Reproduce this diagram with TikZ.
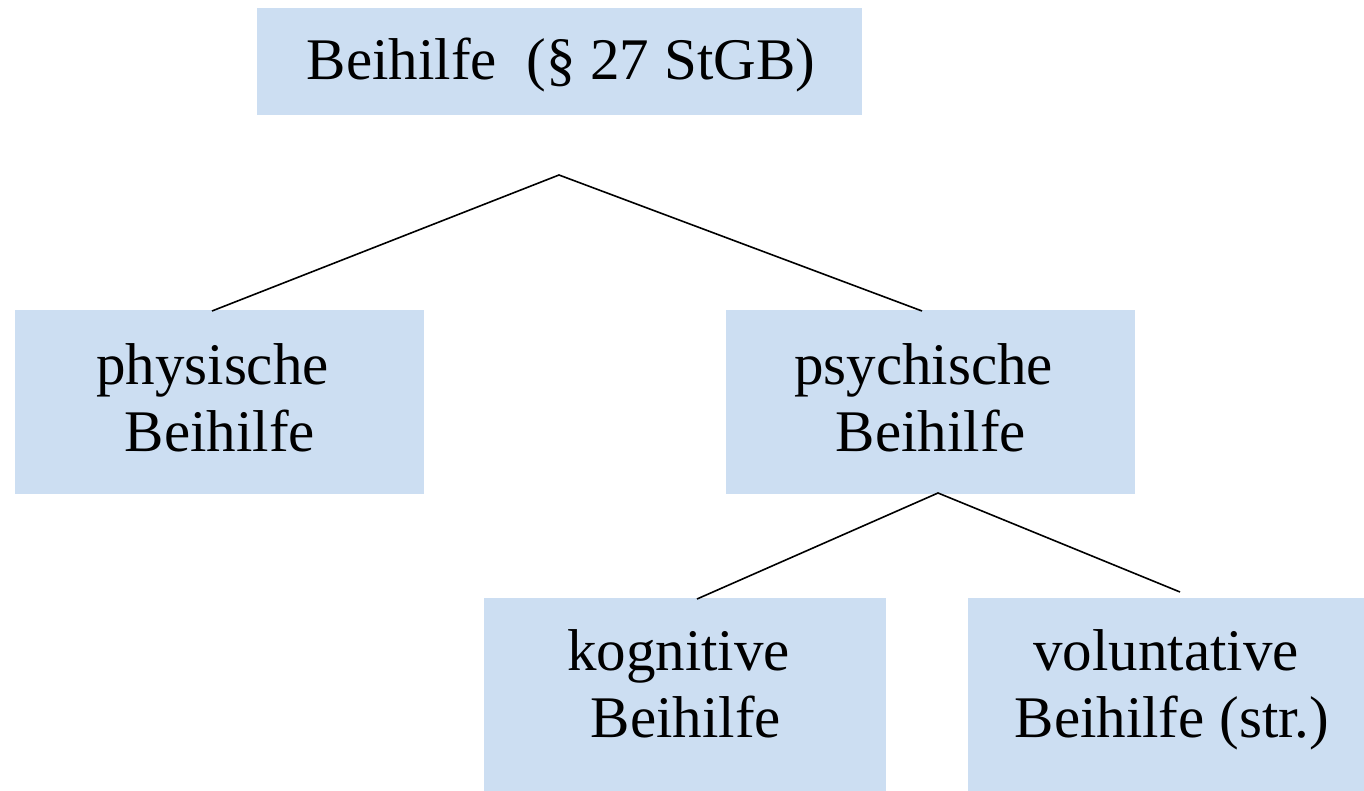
\documentclass[tikz,border=0pt]{standalone}
\usepackage{fontspec}
\setmainfont{Liberation Serif}
\definecolor{boxblue}{HTML}{CCDEF2}
\begin{document}
\begin{tikzpicture}[x=1pt,y=-1pt,
  boxnode/.style={fill=boxblue,inner sep=0pt},
  txt/.style={inner sep=0pt,align=center,font=\fontsize{59}{67}\selectfont},
  conn/.style={draw=black,line width=1.6pt,line join=miter}]
\useasboundingbox (0,0) rectangle (1364,791);
\node[boxnode,minimum width=605pt,minimum height=107pt] (top) at (559.5,61.5) {};
\node[boxnode,minimum width=409pt,minimum height=183pt] (phys) at (219.5,402) {};
\node[boxnode,minimum width=409pt,minimum height=183pt] (psych) at (930.5,402) {};
\node[boxnode,minimum width=402pt,minimum height=194pt] (kog) at (685,695) {};
\node[boxnode,minimum width=396pt,minimum height=194pt] (vol) at (1166,695) {};
\node[txt,anchor=base] (ttop) at (561,80) {Beihilfe\ \ (\S\ 27 StGB)};
\node[txt,anchor=base] (tphys) at (220,451) {physische\hspace*{15pt}\\Beihilfe};
\node[txt,anchor=base] (tpsych) at (931,451) {psychische\hspace*{15pt}\\Beihilfe};
\node[txt,anchor=base] (tkog) at (686,737) {kognitive\hspace*{15pt}\\Beihilfe};
\node[txt,anchor=base] (tvol) at (1170,737) {\hspace*{-8pt}voluntative\\\hspace*{4pt}Beihilfe (str.)};
\coordinate (p1) at (559,175);
\coordinate (e1) at (212,311);
\coordinate (e2) at (922,311);
\coordinate (p2) at (938,493);
\coordinate (e3) at (697,599);
\coordinate (e4) at (1180,592);
\draw[conn] (e1) -- (p1) -- (e2);
\draw[conn] (e3) -- (p2) -- (e4);
\end{tikzpicture}
\end{document}
